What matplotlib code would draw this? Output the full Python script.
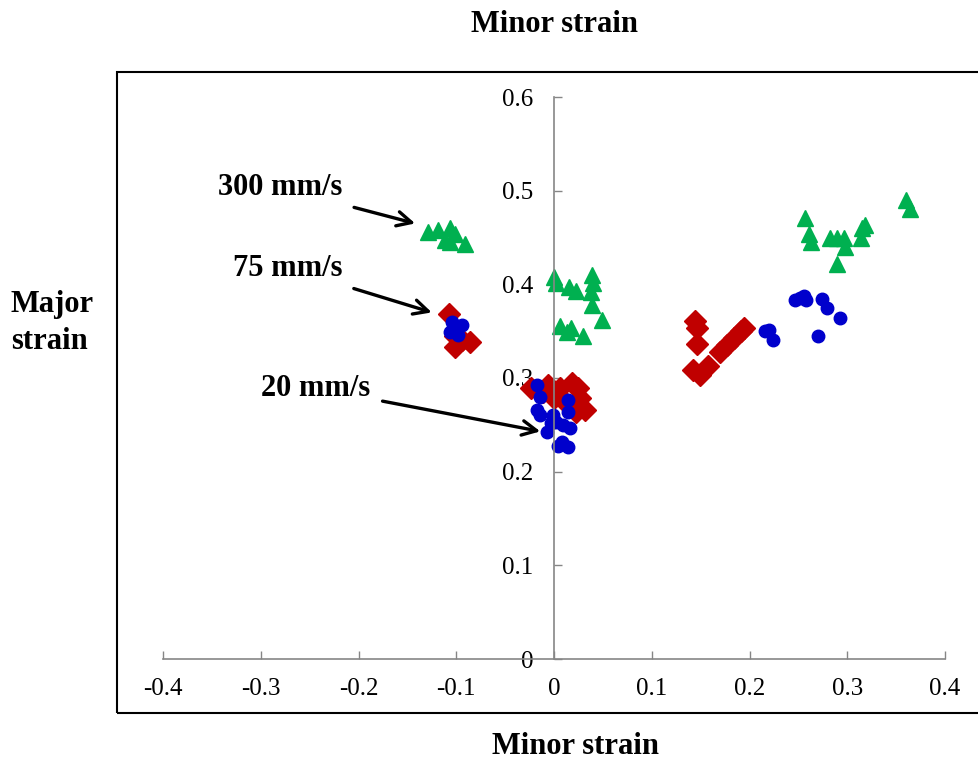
import matplotlib.pyplot as plt
from matplotlib.patches import Rectangle

plt.rcParams['font.family'] = ['Liberation Serif', 'DejaVu Serif']

# 300 mm/s (green triangles)
minor_300 = [-0.129, -0.119, -0.106, -0.101, -0.111, -0.106, -0.091,
             0.000, 0.002, 0.015, 0.023, 0.039, 0.040, 0.038, 0.039, 0.049,
             0.006, 0.017, 0.013, 0.030,
             0.257, 0.261, 0.263, 0.282, 0.290, 0.297, 0.298, 0.290,
             0.315, 0.318, 0.314, 0.360, 0.364]
major_300 = [0.456, 0.458, 0.460, 0.454, 0.447, 0.445, 0.443,
             0.408, 0.401, 0.397, 0.393, 0.410, 0.401, 0.392, 0.378, 0.362,
             0.355, 0.353, 0.349, 0.345,
             0.471, 0.454, 0.445, 0.449, 0.449, 0.449, 0.440, 0.422,
             0.460, 0.463, 0.449, 0.490, 0.480]

# 75 mm/s (red diamonds)
minor_75 = [-0.107, -0.101, -0.086, -0.101, -0.094,
            -0.024, -0.006, 0.006, 0.018, 0.025, 0.027, 0.032, 0.023, 0.000, 0.011, -0.011,
            0.144, 0.146, 0.146, 0.142, 0.149, 0.158, 0.170, 0.177, 0.184, 0.191, 0.194]
major_75 = [0.368, 0.345, 0.338, 0.333, 0.341,
            0.289, 0.292, 0.289, 0.295, 0.289, 0.279, 0.266, 0.264, 0.279, 0.274, 0.285,
            0.361, 0.353, 0.336, 0.309, 0.303, 0.313, 0.328, 0.335, 0.343, 0.350, 0.353]

# 20 mm/s (blue circles)
minor_20 = [-0.104, -0.094, -0.106, -0.098, -0.101,
            -0.017, -0.014, -0.017, -0.014, -0.001, 0.014, 0.014, 0.009, 0.016, -0.007,
            0.002, 0.004, 0.014, 0.008, -0.003,
            0.216, 0.220, 0.224, 0.247, 0.252, 0.256, 0.258, 0.274, 0.279, 0.293, 0.270]
major_20 = [0.360, 0.357, 0.349, 0.346, 0.351,
            0.293, 0.280, 0.266, 0.261, 0.261, 0.277, 0.264, 0.250, 0.247, 0.242,
            0.253, 0.227, 0.226, 0.232, 0.252,
            0.350, 0.351, 0.341, 0.383, 0.385, 0.388, 0.383, 0.384, 0.375, 0.364, 0.345]

xticks = [-0.4, -0.3, -0.2, -0.1, 0, 0.1, 0.2, 0.3, 0.4]
xlabels = ['-0.4', '-0.3', '-0.2', '-0.1', '0', '0.1', '0.2', '0.3', '0.4']
yticks = [0, 0.1, 0.2, 0.3, 0.4, 0.5, 0.6]
ylabels = ['0', '0.1', '0.2', '0.3', '0.4', '0.5', '0.6']

fig = plt.figure(figsize=(9.79, 7.61), dpi=100)
W, H = 979, 761
ax = fig.add_axes([163 / W, 1 - 659 / H, (945 - 163) / W, (659 - 97) / H])

ax.plot(minor_300, major_300, linestyle='none', marker='^', ms=12,
        color='#00B050', clip_on=False)
ax.plot(minor_75, major_75, linestyle='none', marker='D', ms=11.5,
        color='#C00000', clip_on=False)
ax.plot(minor_20, major_20, linestyle='none', marker='o', ms=9,
        color='#0000CC', clip_on=False)

ax.set_xlim(-0.4, 0.4)
ax.set_ylim(0, 0.6)
ax.spines['top'].set_visible(False)
ax.spines['right'].set_visible(False)
ax.spines['left'].set_position(('data', 0))
ax.spines['bottom'].set_position(('data', 0))
for s in ('left', 'bottom'):
    ax.spines[s].set_color('#868686')
    ax.spines[s].set_linewidth(1.2)

ax.set_xticks(xticks)
ax.set_xticklabels(xlabels)
ax.set_yticks(yticks)
ax.set_yticklabels(ylabels)
ax.tick_params(axis='x', direction='in', length=6, width=1, color='#868686',
               pad=14, labelsize=18)
ax.tick_params(axis='y', direction='in', length=6, width=1, color='#868686',
               pad=15, labelsize=18)
ax.patch.set_visible(False)

# annotations
arrow = dict(arrowstyle='->', color='black', lw=2.4, mutation_scale=26,
             shrinkA=7, shrinkB=0)
ax.annotate('300 mm/s', xy=(-0.142, 0.465), xytext=(-0.217, 0.503),
            fontsize=22, fontweight='bold', ha='right', va='center',
            arrowprops=arrow)
ax.annotate('75 mm/s', xy=(-0.125, 0.370), xytext=(-0.216, 0.417),
            fontsize=22, fontweight='bold', ha='right', va='center',
            arrowprops=arrow)
ax.annotate('20 mm/s', xy=(-0.014, 0.243), xytext=(-0.188, 0.289),
            fontsize=22, fontweight='bold', ha='right', va='center',
            arrowprops=arrow)

# outer frame and titles
fig.add_artist(Rectangle((117 / W, 1 - 713 / H), (990 - 117) / W, (713 - 72) / H,
                         transform=fig.transFigure, fill=False,
                         edgecolor='black', linewidth=1.5))
fig.text(555 / W, 1 - 25 / H, 'Minor strain', ha='center', va='center',
         fontsize=22, fontweight='bold')
fig.text(576 / W, 1 - 746 / H, 'Minor strain', ha='center', va='center',
         fontsize=22, fontweight='bold')
fig.text(11 / W, 1 - 323 / H, 'Major\nstrain', ha='left', va='center',
         fontsize=22, fontweight='bold', linespacing=1.4)

plt.savefig('out.png', dpi=100)
